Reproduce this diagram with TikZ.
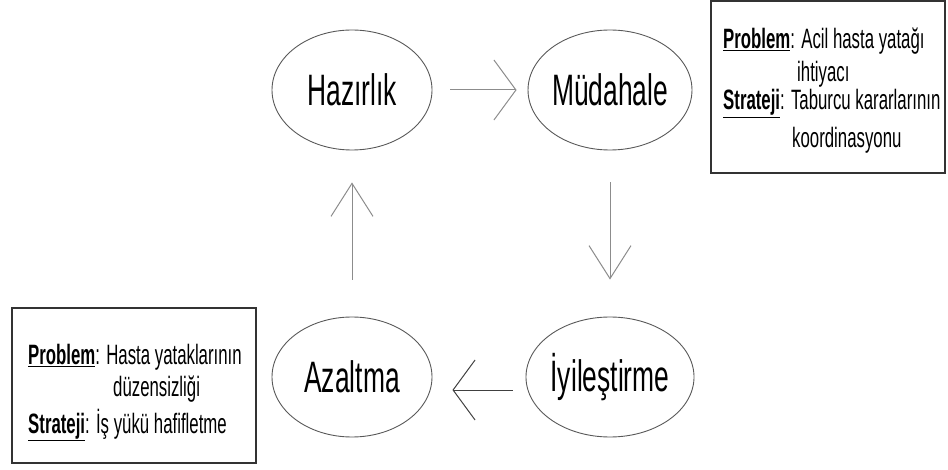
\documentclass[tikz,border=0pt]{standalone}
\usepackage{fontspec}
\setmainfont{Liberation Sans}[FakeStretch=0.6]
\usetikzlibrary{shapes.geometric,arrows.meta}

\definecolor{dialinecolor}{rgb}{0.35,0.35,0.35}
\definecolor{arrowcolor}{rgb}{0.55,0.55,0.55}
\newcommand{\keyword}[1]{\underline{\textbf{#1}}}

\begin{document}
\begin{tikzpicture}[x=1pt,y=-1pt,
  stage/.style={ellipse,draw=dialinecolor,line width=0.9pt,minimum width=160pt,minimum height=120pt,inner sep=0pt,font=\fontsize{44}{46}\selectfont},
  infobox/.style={draw=black!80,line width=1.4pt,inner sep=0pt},
  infoline/.style={anchor=base west,inner sep=0pt,font=\fontsize{28}{30}\selectfont},
  flowh/.style={draw=arrowcolor,line width=1pt,-{Straight Barb[length=22pt,width=60pt]}},
  flowv/.style={draw=arrowcolor,line width=1pt,-{Straight Barb[length=33pt,width=42pt]}}]
\useasboundingbox (0,0) rectangle (948,470);

% cycle
\node[stage] (haz) at (352,90) {Hazırlık};
\node[stage] (mud) at (610,90) {Müdahale};
\node[stage] (azal) at (352,377) {Azaltma};
\node[stage] (iyi) at (610,377) {İyileştirme};

\draw[flowh, shorten <=18pt, shorten >=11pt] (haz) -- (mud);
\draw[flowv, shorten <=32pt, shorten >=37pt] (mud.south) -- (iyi.north);
\draw[flowh, draw=black!75, shorten <=13pt, shorten >=20pt] ([yshift=-13pt]iyi.west) -- ([yshift=-13pt]azal.east);
\draw[flowv, shorten <=37pt, shorten >=32pt] (azal.north) -- (haz.south);

% problem / strateji boxes
\node[infobox, minimum width=234pt, minimum height=172pt] (rbox) at (828,87) {};
\node[infoline] (rprob) at (723,49) {\keyword{Problem}: Acil hasta yatağı};
\node[infoline] (rprob2) at (797,82) {ihtiyacı};
\node[infoline] (rstrat) at (723,110) {\keyword{Strateji}: Taburcu kararlarının};
\node[infoline] (rstrat2) at (792,148) {koordinasyonu};

\node[infobox, minimum width=244pt, minimum height=155pt] (lbox) at (134,385.5) {};
\node[infoline] (lprob) at (28,365) {\keyword{Problem}: Hasta yataklarının};
\node[infoline] (lprob2) at (113,396) {düzensizliği};
\node[infoline] (lstrat) at (28,433) {\keyword{Strateji}: İş yükü hafifletme};
\end{tikzpicture}
\end{document}
